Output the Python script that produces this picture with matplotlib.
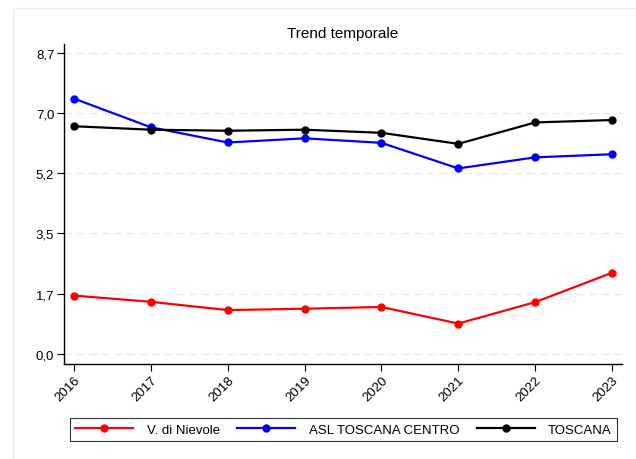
import matplotlib
matplotlib.use("Agg")
import matplotlib.pyplot as plt
from matplotlib.patches import Rectangle
from matplotlib.ticker import FixedLocator, FixedFormatter

plt.rcParams['font.family'] = ['Liberation Sans', 'DejaVu Sans']

years = [2016, 2017, 2018, 2019, 2020, 2021, 2022, 2023]
v_nievole = [1.68, 1.50, 1.26, 1.30, 1.35, 0.87, 1.49, 2.34]
asl_centro = [7.38, 6.55, 6.11, 6.23, 6.10, 5.36, 5.68, 5.77]
toscana = [6.58, 6.48, 6.45, 6.48, 6.39, 6.07, 6.69, 6.76]

series_names = ["V. di Nievole", "ASL TOSCANA CENTRO", "TOSCANA"]
series_colors = ["#ff0000", "#0000ff", "#000000"]
ytick_vals = [0.0, 1.74, 3.48, 5.22, 6.96, 8.7]
ytick_labels = ["0,0", "1,7", "3,5", "5,2", "7,0", "8,7"]

fig = plt.figure(figsize=(6.36, 4.6), dpi=100)
fig.patches.append(Rectangle((13/636, -0.5), 2, 1.5 - 9/460, transform=fig.transFigure,
                             fill=False, edgecolor="#e6efef", linewidth=1.0, zorder=0))
ax = fig.add_axes([64/636, 1 - 365/460, (622 - 64)/636, (365 - 45)/460])

for data, name, col in zip([v_nievole, asl_centro, toscana], series_names, series_colors):
    ax.plot(years, data, color=col, linewidth=1.6, marker='o', markersize=5, label=name, zorder=3)

ax.set_xlim(2015.87, 2023.13)
ax.set_ylim(-0.30, 8.96)
ax.yaxis.set_major_locator(FixedLocator(ytick_vals))
ax.yaxis.set_major_formatter(FixedFormatter(ytick_labels))
ax.set_xticks(years)
ax.set_xticklabels([str(y) for y in years], rotation=45, ha='right', va='top',
                   rotation_mode='anchor', fontsize=9.5)
ax.tick_params(axis='y', labelsize=9.5, length=5, width=0.8, pad=2)
ax.tick_params(axis='x', length=5, width=0.8, pad=2)
ax.grid(axis='y', linestyle=(0, (6, 4)), color='#e8e8e8', linewidth=0.9, zorder=0)
for s in ['top', 'right']:
    ax.spines[s].set_visible(False)
for s in ['left', 'bottom']:
    ax.spines[s].set_linewidth(1.0)
ax.set_title("Trend temporale", fontsize=11, pad=5)

leg = fig.legend(loc='lower left', bbox_to_anchor=(70/636, 1 - 442/460, (617 - 70)/636, 30/460),
                 mode='expand', ncol=3, frameon=True, fancybox=False, fontsize=9.5,
                 handlelength=4.4, borderaxespad=0, handletextpad=1.0)
leg.get_frame().set_edgecolor('black')
leg.get_frame().set_linewidth(0.8)
for h in leg.legend_handles:
    h.set_markersize(5)

fig.savefig("out.png", dpi=100)
